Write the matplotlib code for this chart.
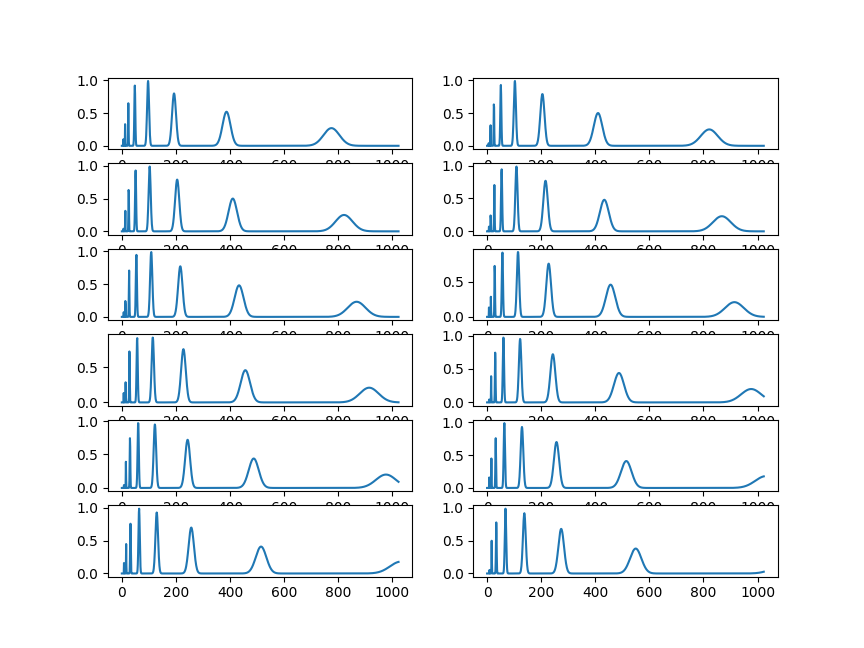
import numpy as np
import matplotlib.pyplot as plt
from matplotlib.ticker import MultipleLocator, FormatStrFormatter

# peak centres of the first panel, and how far each later panel stretches them
base_centers = [6, 12, 24, 48, 97, 193, 387, 775]
scales = [1.0, 1.06, 1.12, 1.18, 1.26, 1.33, 1.42]
# peak heights
heights = [
    [0.10, 0.33, 0.65, 0.92, 0.99, 0.80, 0.52, 0.27],
    [0.12, 0.37, 0.70, 0.93, 0.99, 0.79, 0.50, 0.25],
    [0.13, 0.35, 0.71, 0.95, 0.99, 0.77, 0.48, 0.23],
    [0.14, 0.30, 0.76, 0.93, 0.93, 0.76, 0.46, 0.21],
    [0.14, 0.40, 0.76, 0.99, 0.95, 0.72, 0.44, 0.20],
    [0.16, 0.45, 0.76, 0.99, 0.93, 0.70, 0.41, 0.18],
    [0.16, 0.50, 0.78, 0.99, 0.92, 0.68, 0.38, 0.15],
]
rel_width = 0.038
n = 1024

x = np.arange(n)
fig, axes = plt.subplots(6, 2, figsize=(8.64, 6.48), dpi=100)
for r in range(6):
    for c in range(2):
        k = r + c
        y = np.zeros(n)
        for ctr, h in zip(base_centers, heights[k]):
            m = ctr * scales[k]
            y += h * np.exp(-0.5 * ((x - m) / (rel_width * m)) ** 2)
        ax = axes[r, c]
        ax.plot(x, y)
        ax.yaxis.set_major_locator(MultipleLocator(0.5))
        ax.yaxis.set_major_formatter(FormatStrFormatter("%.1f"))

fig.savefig("out.png")
